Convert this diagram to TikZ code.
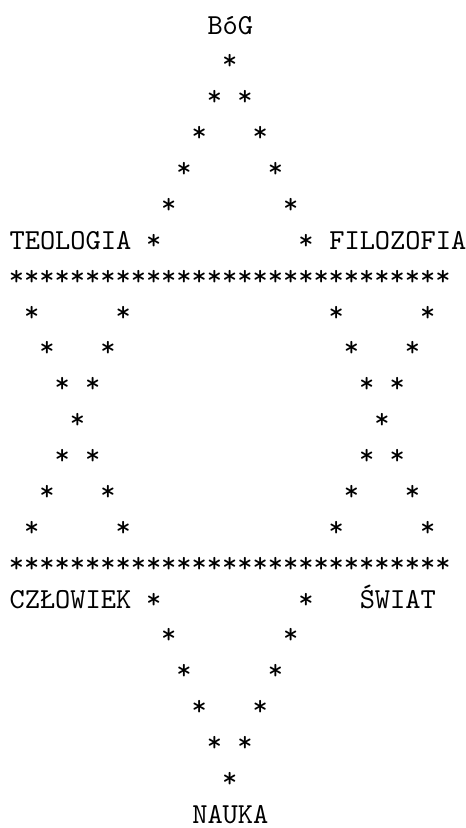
\documentclass[tikz,border=0pt]{standalone}
\usepackage{fontspec}
\usepackage{tikz}

\begin{document}
\begin{tikzpicture}[x=5.25pt, y=-12.37pt, font=\ttfamily,
    gw/.style={anchor=base, inner sep=0pt},
    napis/.style={anchor=base west, inner sep=0pt}]

    % 0. ramka obrazka (kolumna = jeden znak, wiersz = jedna linia)
    \useasboundingbox (-0.59,-0.95) rectangle (30,22.13);

    % 1. góra: BóG i trójkąt
    \node[napis] (bog) at (13,0) {BóG};
    \node[gw] (g-1) at (14.5,1) {*};
    \foreach \r in {2,...,6}{
      \node[gw] (g-\r-l) at ({14.5-(\r-1)},\r) {*};
      \node[gw] (g-\r-p) at ({14.5+(\r-1)},\r) {*};
    }
    \node[napis] (teologia) at (0,6) {TEOLOGIA};
    \node[napis] (filozofia) at (21,6) {FILOZOFIA};

    % 2. dwa rzędy gwiazdek
    \foreach \c in {0,...,28}{
      \node[gw] (a-\c) at (\c+0.5,7) {*};
      \node[gw] (b-\c) at (\c+0.5,15) {*};
    }

    % 3. dwa romby między rzędami
    \foreach \r in {8,...,14}{
      \pgfmathtruncatemacro{\d}{abs(11-\r)}
      \node[gw] (rl-\r-l) at (4.5-\d,\r) {*};
      \node[gw] (rp-\r-l) at (24.5-\d,\r) {*};
      \ifnum\d>0
        \node[gw] (rl-\r-p) at (4.5+\d,\r) {*};
        \node[gw] (rp-\r-p) at (24.5+\d,\r) {*};
      \fi
    }

    % 4. dół: trójkąt i NAUKA
    \node[napis] (czlowiek) at (0,16) {CZŁOWIEK};
    \node[napis] (swiat) at (23,16) {ŚWIAT};
    \foreach \r in {16,...,20}{
      \node[gw] (d-\r-l) at ({14.5-(21-\r)},\r) {*};
      \node[gw] (d-\r-p) at ({14.5+(21-\r)},\r) {*};
    }
    \node[gw] (d-21) at (14.5,21) {*};
    \node[napis] (nauka) at (12,22) {NAUKA};

  \end{tikzpicture}
\end{document}
